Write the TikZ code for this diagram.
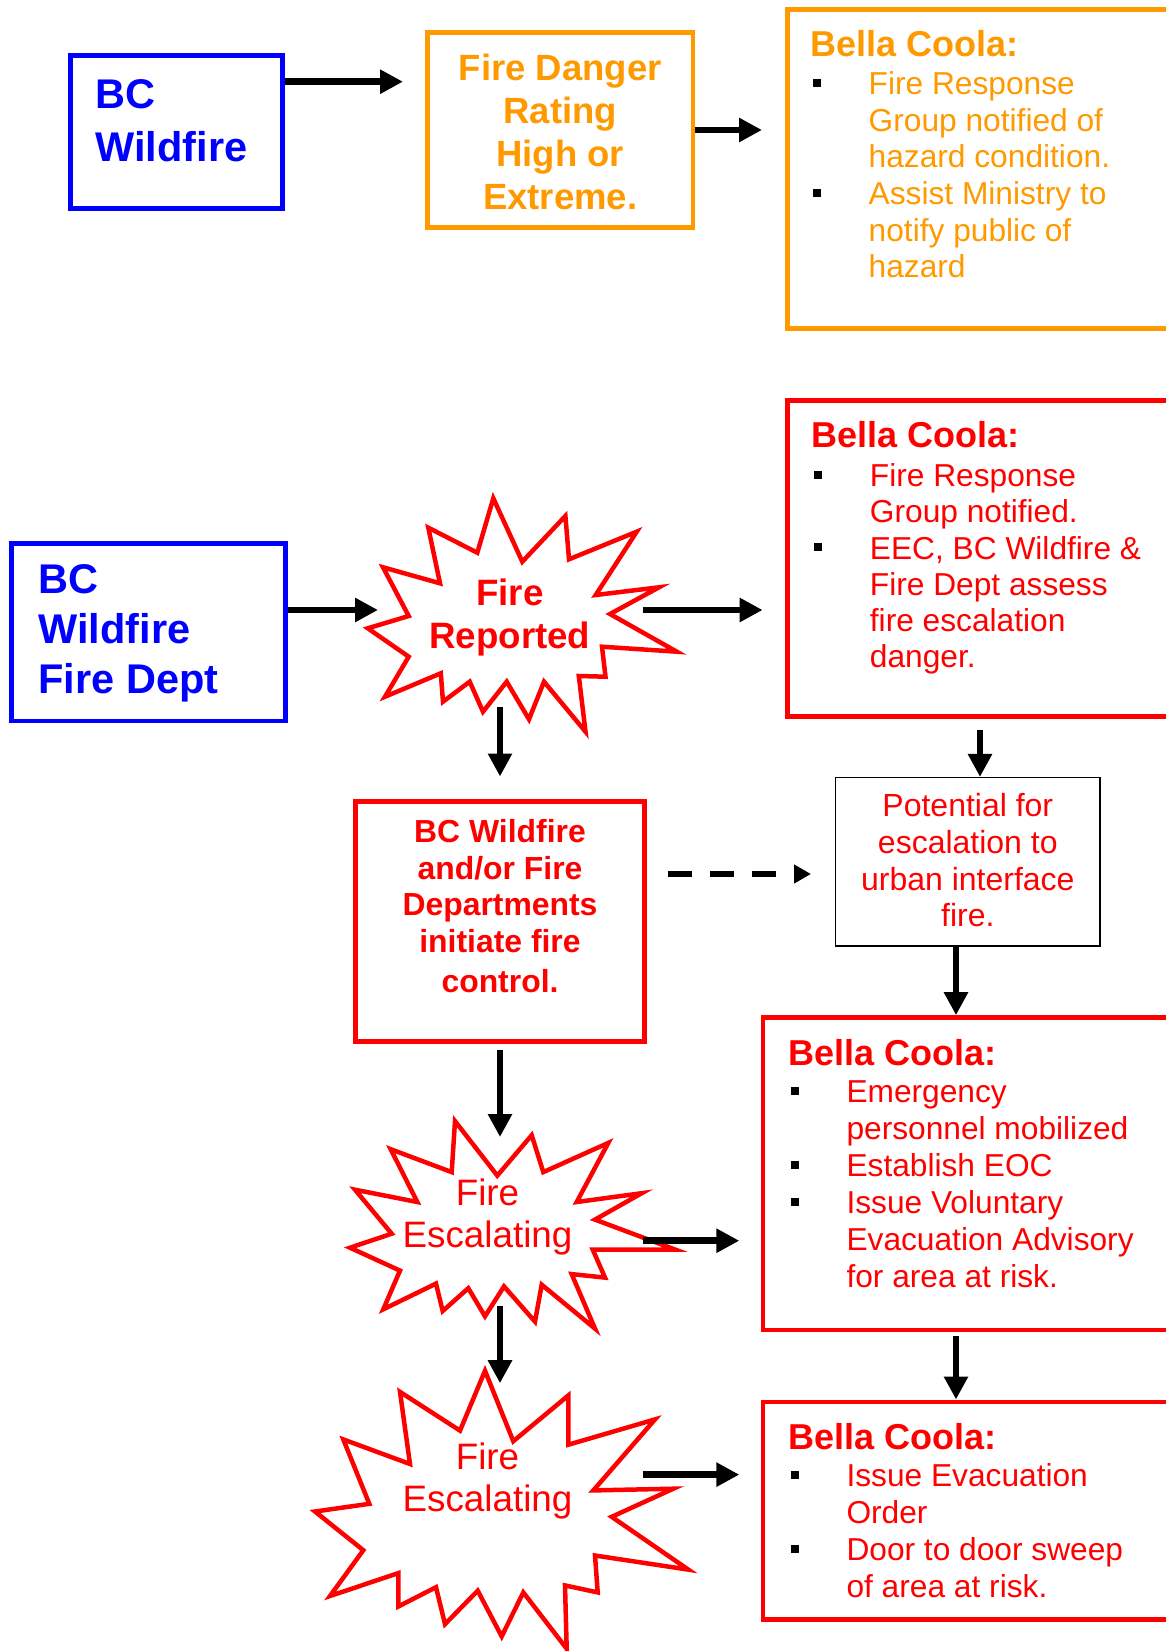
\documentclass[tikz,border=0pt]{standalone}
\usepackage{fontspec}
\setmainfont{Liberation Sans}
\usetikzlibrary{arrows.meta}

\definecolor{bcorange}{RGB}{255,153,0}
\definecolor{bcred}{RGB}{255,0,0}
\definecolor{bcblue}{RGB}{0,0,255}
\newcommand{\fs}[2]{\fontsize{#1}{#2}\selectfont}
\newcommand{\bul}{\makebox[58pt][l]{\hspace{2pt}{\color{black}\raisebox{7.7pt}{\rule{8pt}{8pt}}}}}
\newcommand{\ind}{\hspace*{58pt}}

\begin{document}
\begin{tikzpicture}[x=1pt,y=-1pt,
  box/.style={draw,line width=4.5pt,inner sep=0pt},
  burst/.style={draw=bcred,line width=4.5pt,fill=white},
  arr/.style={-{Triangle[length=23pt,width=23pt]},line width=6.5pt},
  ltxt/.style={inner sep=0pt,anchor=base west,align=left},
  ctxt/.style={inner sep=0pt,anchor=base,align=center}]
  \useasboundingbox (0,0) rectangle (1166,1651);

  % top row (text nodes sit on the baseline of their last line)
  \node[box,draw=bcblue,minimum width=212pt,minimum height=152.6pt] (bcw) at (176.5,132) {};
  \node[ltxt,text=bcblue,font=\fs{41.5}{52.7}\bfseries] (bcwt) at (95.2,161) {BC\\Wildfire};
  \node[box,draw=bcorange,minimum width=265.5pt,minimum height=195.4pt] (fdr) at (560.2,130) {};
  \node[ctxt,text=bcorange,font=\fs{36.5}{42.9}\bfseries] (fdrt) at (560.2,209.3) {Fire Danger\\Rating\\High or\\Extreme.};
  \node[box,draw=bcorange,minimum width=402.5pt,minimum height=319pt] (bc1) at (988.7,169) {};
  \node[ltxt,text=bcorange,font=\fs{31.7}{36.6}] (bc1t) at (810.5,277.7)
    {{\fs{36}{36.6}\bfseries Bella Coola:}\\[1.7pt]
     \bul Fire Response\\ \ind Group notified of\\ \ind hazard condition.\\
     \bul Assist Ministry to\\ \ind notify public of\\ \ind hazard};

  % fire reported
  \node[box,draw=bcblue,minimum width=274pt,minimum height=177.7pt] (bcwfd) at (148.7,632.2) {};
  \node[ltxt,text=bcblue,font=\fs{41.5}{50}\bfseries] (bcwfdt) at (38.3,693.3) {BC\\Wildfire\\Fire Dept};
  \draw[burst] (493.3,498.3) -- (522.3,561.7) -- (565.4,516) -- (569,559.3) -- (636.7,531.7)
    -- (595.7,595) -- (659,587.3) -- (610,614) -- (676.8,651.7) -- (602,646.7)
    -- (605.5,676.7) -- (578.8,676) -- (585.5,731.7) -- (544,681.7) -- (529,719.3)
    -- (506.7,681.7) -- (483,711.7) -- (469.7,681.7) -- (443,701.7) -- (440.8,673.3)
    -- (385,696.7) -- (408.7,656.7) -- (367.8,628.3) -- (408.7,616) -- (383,567.3)
    -- (440,583.3) -- (428.3,527.7) -- (477.3,552.7) -- cycle;
  \node[ctxt,text=bcred,font=\fs{36.7}{43.3}\bfseries] (rep) at (509.8,648.3) {Fire\\Reported};
  \node[box,draw=bcred,minimum width=402.7pt,minimum height=316.2pt] (bc2) at (988.6,558.6) {};
  \node[ltxt,text=bcred,font=\fs{31.7}{36.2}] (bc2t) at (811.7,667.7)
    {{\fs{36}{36.2}\bfseries Bella Coola:}\\[3.2pt]
     \bul Fire Response\\ \ind Group notified.\\
     \bul EEC, BC Wildfire \&\\ \ind Fire Dept assess\\ \ind fire escalation\\ \ind danger.};

  % fire control and escalation
  \node[box,draw=bcred,minimum width=288.6pt,minimum height=240pt] (ctrl) at (500,921.7) {};
  \node[ctxt,text=bcred,font=\fs{31.9}{36.7}\bfseries] (ctrlt) at (500,992.3)
    {BC Wildfire\\and/or Fire\\Departments\\initiate fire\\[3pt]control.};
  \node[draw,line width=1.5pt,inner sep=0pt,minimum width=264.3pt,minimum height=168.3pt] (pot) at (967.8,861.8) {};
  \node[ctxt,text=bcred,font=\fs{32}{36.7}] (pott) at (967.8,926.7)
    {Potential for\\escalation to\\urban interface\\fire.};
  \draw[burst] (455,1121.1) -- (497.3,1175.6) -- (531.7,1135.2) -- (543.3,1172.1) -- (608.3,1142.9)
    -- (576.7,1202) -- (641.7,1193.2) -- (595,1219.6) -- (675,1249.5) -- (592.7,1249.5)
    -- (605,1277.6) -- (571.7,1274.1) -- (595,1328.6) -- (541.7,1284.7) -- (535,1321.6)
    -- (504,1286.4) -- (485,1316.3) -- (468.3,1288.2) -- (442.7,1311) -- (436,1283.6)
    -- (383.3,1309.3) -- (400,1270.6) -- (350,1247.7) -- (391.7,1233.7) -- (355,1189.7)
    -- (417.3,1202) -- (390.7,1149.2) -- (451.7,1172.1) -- cycle;
  \node[ctxt,text=bcred,font=\fs{36.8}{42.2}] (esc1) at (487.5,1247.7) {Fire\\Escalating};
  \node[box,draw=bcred,minimum width=427pt,minimum height=312.6pt] (bc3) at (976.5,1173.7) {};
  \node[ltxt,text=bcred,font=\fs{31.7}{37}] (bc3t) at (788.3,1287.7)
    {{\fs{36}{37}\bfseries Bella Coola:}\\[0.3pt]
     \bul Emergency\\ \ind personnel mobilized\\ \bul Establish EOC\\
     \bul Issue Voluntary\\ \ind Evacuation Advisory\\ \ind for area at risk.};
  \draw[burst] (485,1370.8) -- (513.3,1441.2) -- (568.3,1395.5) -- (568.3,1444.7) -- (655,1419.4)
    -- (593.3,1490.4) -- (673.3,1488.7) -- (611.7,1516.8) -- (688.3,1569.6) -- (595,1555.5)
    -- (597.7,1592.4) -- (565,1585.4) -- (566.7,1648.7) -- (523.3,1592.4) -- (501.7,1636.4)
    -- (477.7,1590.7) -- (445,1624.1) -- (436,1587.2) -- (398.3,1606.5) -- (398.3,1573.1)
    -- (330,1596) -- (363.3,1550.2) -- (315,1511.5) -- (369.3,1503.8) -- (343.3,1439.4)
    -- (410,1464) -- (400,1391.9) -- (460,1430.6) -- cycle;
  \node[ctxt,text=bcred,font=\fs{36.8}{42.2}] (esc2) at (487.5,1511.5) {Fire\\Escalating};
  \node[box,draw=bcred,minimum width=427pt,minimum height=217.5pt] (bc4) at (976.5,1510.5) {};
  \node[ltxt,text=bcred,font=\fs{31.7}{37}] (bc4t) at (788.3,1597.7)
    {{\fs{36}{37}\bfseries Bella Coola:}\\
     \bul Issue Evacuation\\ \ind Order\\ \bul Door to door sweep\\ \ind of area at risk.};

  % arrow ends
  \coordinate (fdrin) at (403,81.7);
  \coordinate (bc1in) at (762,130);
  \coordinate (repin) at (378,610);
  \coordinate (repout) at (643,610);
  \coordinate (bc2in) at (762.6,610);
  \coordinate (repdown) at (500,707);
  \coordinate (ctrlin) at (500,776.5);
  \coordinate (bc2out) at (980,730);
  \coordinate (ctrlout) at (667.7,874);
  \coordinate (potin) at (811,874);
  \coordinate (potout) at (956,946);
  \coordinate (esc1in) at (500,1137);
  \coordinate (esc1out) at (643.3,1240.7);
  \coordinate (bc3in) at (739.3,1240.7);
  \coordinate (esc1down) at (500,1305.8);
  \coordinate (esc2in) at (500,1383.2);
  \coordinate (bc3out) at (956,1336.2);
  \coordinate (esc2out) at (643.3,1474.6);
  \coordinate (bc4in) at (739.3,1474.6);

  \draw[arr] (bcw.east |- fdrin) -- (fdrin);
  \draw[arr] (fdr.east |- bc1in) -- (bc1in);
  \draw[arr] (bcwfd.east |- repin) -- (repin);
  \draw[arr] (repout) -- (bc2in);
  \draw[arr] (repdown) -- (ctrlin);
  \draw[arr] (bc2out) -- (bc2out |- pot.north);
  \draw[arr,dash pattern=on 24pt off 18.3pt,-{Triangle[length=17pt,width=18pt]}] (ctrlout) -- (potin);
  \draw[arr] (potout) -- (potout |- bc3.north);
  \draw[arr] ([yshift=-6.3pt]ctrl.south) -- (esc1in);
  \draw[arr] (esc1out) -- (bc3in);
  \draw[arr] (esc1down) -- (esc2in);
  \draw[arr] (bc3out) -- (bc3out |- bc4.north);
  \draw[arr] (esc2out) -- (bc4in);
\end{tikzpicture}
\end{document}
